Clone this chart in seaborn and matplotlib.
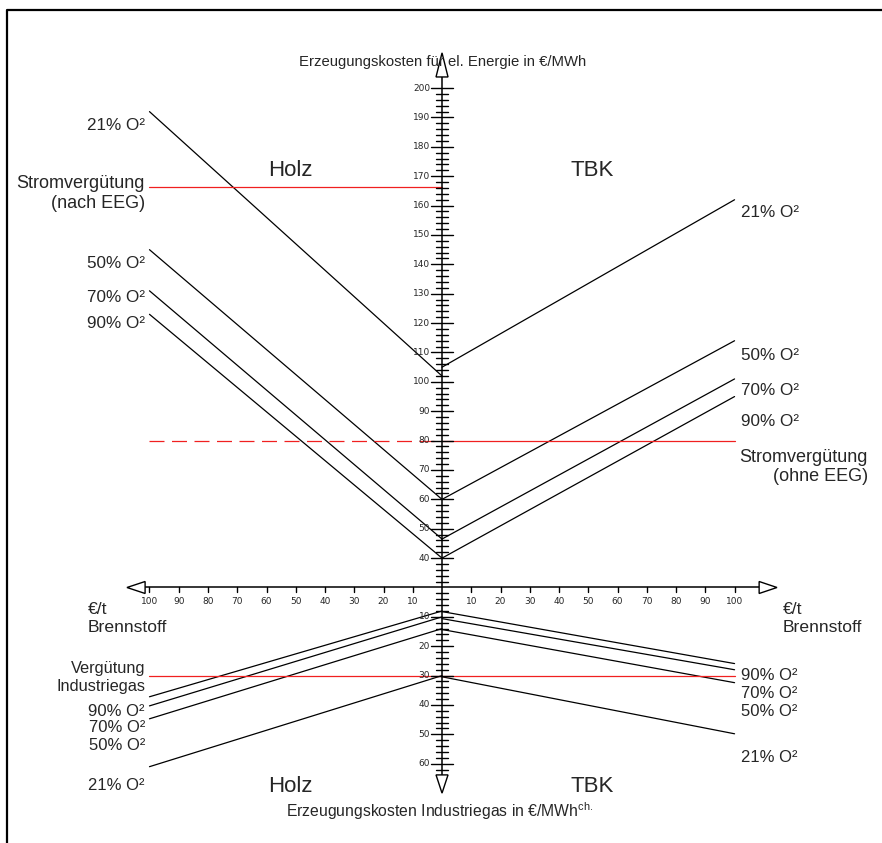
import numpy as np
import pandas as pd
import matplotlib.pyplot as plt
import seaborn as sns
from matplotlib.patches import Polygon
from matplotlib.lines import Line2D

sns.set_style("white")
plt.rcParams['font.family'] = ['Liberation Sans', 'DejaVu Sans']
plt.rcParams['mathtext.fontset'] = 'custom'
plt.rcParams['mathtext.rm'] = 'Liberation Sans'

# --- data ---
o2_levels = ["21% O²", "50% O²", "70% O²", "90% O²"]
fuel_price = [0, 100]                      # €/t Brennstoff

# electricity generation cost €/MWh at 0 and 100 €/t
holz_el_0 = [102, 60, 46.5, 40]
holz_el_100 = [192, 145, 131, 123]
tbk_el_0 = [105, 60, 46.5, 40]
tbk_el_100 = [162, 114, 101, 95]

# industrial gas cost €/MWh(ch.) at 0 and 100 €/t
holz_gas_0 = [30, 14, 10, 8]
holz_gas_100 = [61, 44.7, 40.3, 37.2]
tbk_gas_0 = [30.4, 14.3, 10.6, 8.2]
tbk_gas_100 = [49.8, 32.4, 28, 25.9]

strom_eeg = 166.3       # Stromvergütung (nach EEG)
strom_ohne_eeg = 80     # Stromvergütung (ohne EEG)
verg_gas = 30           # Vergütung Industriegas

el_ticks = list(range(40, 201, 10))
gas_ticks = list(range(10, 61, 10))
x_ticks = list(range(10, 101, 10))

EL_OFFSET = 30   # upper scale value sitting on the horizontal axis

# --- build long table ---
rows = []
for i, lvl in enumerate(o2_levels):
    for side, sgn, c0, c100 in [("Holz", -1, holz_el_0, holz_el_100),
                                ("TBK", 1, tbk_el_0, tbk_el_100)]:
        for p, c in zip(fuel_price, [c0[i], c100[i]]):
            rows.append(dict(line=f"el-{side}-{lvl}", x=sgn * p, y=c - EL_OFFSET))
    for side, sgn, c0, c100 in [("Holz", -1, holz_gas_0, holz_gas_100),
                                ("TBK", 1, tbk_gas_0, tbk_gas_100)]:
        for p, c in zip(fuel_price, [c0[i], c100[i]]):
            rows.append(dict(line=f"gas-{side}-{lvl}", x=sgn * p, y=-c))
df = pd.DataFrame(rows)

red = pd.DataFrame({
    "line": ["eeg", "eeg", "ohne", "ohne", "gas", "gas"],
    "x": [-100, 0, 0, 100, -100, 100],
    "y": [strom_eeg - EL_OFFSET, strom_eeg - EL_OFFSET,
          strom_ohne_eeg - EL_OFFSET, strom_ohne_eeg - EL_OFFSET,
          -verg_gas, -verg_gas],
})
red_dash = pd.DataFrame({"x": [-100, 0], "y": [strom_ohne_eeg - EL_OFFSET] * 2})

W, H = 882, 843
fig = plt.figure(figsize=(W / 100, H / 100), dpi=100)
ax = fig.add_axes([0, 0, 1, 1])
ax.set_xlim(-151.1, 150.4)
ax.set_ylim(-86.98, 200.0)
ax.axis("off")

sns.lineplot(data=df, x="x", y="y", units="line", estimator=None, sort=False,
             color="black", lw=0.9, legend=False, ax=ax)
sns.lineplot(data=red, x="x", y="y", units="line", estimator=None, sort=False,
             color="#f02020", lw=0.9, legend=False, ax=ax)
ax.plot(red_dash["x"], red_dash["y"], color="#f02020", lw=0.9, linestyle=(0, (12, 6)))

# --- axes of the nomogram ---
ax.plot([0, 0], [-63.8, 173.8], color="black", lw=1.1, zorder=3)
ax.plot([-101.5, 108.4], [0, 0], color="black", lw=1.1, zorder=3)
for pts in [[(-2.05, 173.8), (2.05, 173.8), (0, 182.0)],
            [(-2.05, -63.8), (2.05, -63.8), (0, -70.0)],
            [(-101.5, -2.04), (-101.5, 2.04), (-107.7, 0)],
            [(108.4, -2.04), (108.4, 2.04), (114.5, 0)]]:
    ax.add_patch(Polygon(pts, closed=True, facecolor="white", edgecolor="black", lw=1.0, zorder=4))

# vertical ticks
for v in range(32, 201, 2):
    half = 3.9 if v % 10 == 0 else 2.05
    ax.plot([-half, half], [v - EL_OFFSET] * 2, color="black", lw=1.0, zorder=3)
for w in range(2, 63, 2):
    half = 3.9 if w % 10 == 0 else 2.05
    ax.plot([-half, half], [-w, -w], color="black", lw=1.0, zorder=3)
for v in el_ticks:
    ax.text(-4.1, v - EL_OFFSET, str(v), ha="right", va="center", fontsize=6.5,
            family="DejaVu Sans", zorder=5)
for w in gas_ticks:
    ax.text(-4.1, -w, str(w), ha="right", va="center", fontsize=6.5,
            family="DejaVu Sans", zorder=5)
# horizontal ticks
for t in x_ticks:
    for s in (-1, 1):
        ax.plot([s * t, s * t], [0, -1.7], color="black", lw=1.0)
        ax.text(s * t, -4.9, str(t), ha="center", va="center", fontsize=6.5,
                family="DejaVu Sans")

# --- texts (figure pixel positions) ---
def put(px, py, s, **kw):
    kw.setdefault("fontsize", 12.3)
    kw.setdefault("va", "center")
    fig.text(px / W, 1 - py / H, s, **kw)

put(443, 62, "Erzeugungskosten für el. Energie in €/MWh", ha="center", fontsize=10.7)
put(440, 811, "Erzeugungskosten Industriegas in €/MWh$^{\\mathrm{ch.}}$", ha="center", fontsize=11.3)

for px, py, s in [(290, 171, "Holz"), (592, 171, "TBK"), (290, 787, "Holz"), (592, 787, "TBK")]:
    put(px, py, s, ha="center", fontsize=16)

for py, s in zip([125, 263, 297, 324], o2_levels):
    put(145, py, s, ha="right")
for py, s in zip([212, 355, 390, 421], o2_levels):
    put(741, py, s, ha="left")
put(145, 184, "Stromvergütung", ha="right", fontsize=13)
put(145, 203, "(nach EEG)", ha="right", fontsize=13)
put(868, 458, "Stromvergütung", ha="right", fontsize=13)
put(868, 477, "(ohne EEG)", ha="right", fontsize=13)
for px in (88, 783):
    put(px, 610, "€/t", ha="left", fontsize=12.6)
    put(px, 628, "Brennstoff", ha="left", fontsize=12.6)

put(145, 669, "Vergütung", ha="right", fontsize=11.8)
put(145, 686, "Industriegas", ha="right", fontsize=11.8)
for py, s in zip([785, 746, 727, 711], o2_levels):
    put(145, py, s, ha="right", fontsize=12)
for py, s in zip([757, 712, 693, 676], o2_levels):
    put(741, py, s, ha="left", fontsize=12)

# outer frame (left and top edges)
fig.add_artist(Line2D([7 / W, 7 / W, 1], [0, 1 - 10 / H, 1 - 10 / H], color="black", lw=1.6))

fig.savefig("out.png", dpi=100)
